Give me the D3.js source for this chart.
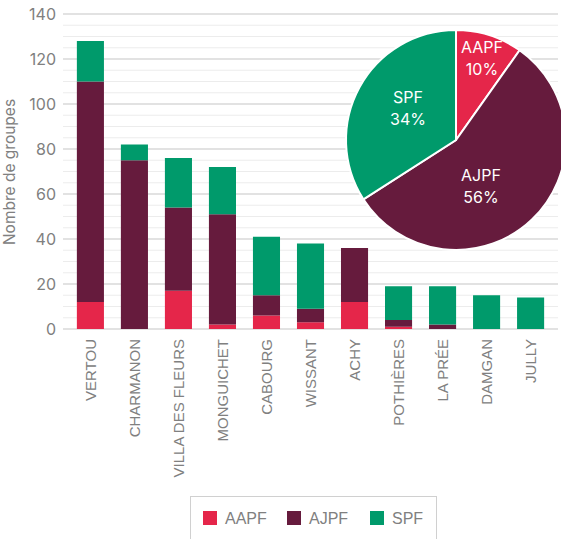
<!doctype html>
<html>
<head>
<meta charset="utf-8"/>
<style>
  html, body { margin: 0; padding: 0; background: #fff; }
  svg { display: block; }
</style>
<script src="https://d3js.org/d3.v7.min.js"></script>
</head>
<body>
<svg id="chart" width="561" height="539"></svg>
<script>
// data
var sites = ["VERTOU", "CHARMANON", "VILLA DES FLEURS", "MONGUICHET", "CABOURG", "WISSANT",
             "ACHY", "POTHIÈRES", "LA PRÉE", "DAMGAN", "JULLY"];
var aapf = [12, 0, 17, 2, 6, 3, 12, 1, 0, 0, 0];
var ajpf = [98, 75, 37, 49, 9, 6, 24, 3, 2, 0, 0];
var spf  = [18, 7, 22, 21, 26, 29, 0, 15, 17, 15, 14];
var seriesNames = ["AAPF", "AJPF", "SPF"];
var yTicks = [0, 20, 40, 60, 80, 100, 120, 140];
var colors = {AAPF: "#e5264a", AJPF: "#661b3d", SPF: "#009a6b"};

var svg = d3.select("#chart");

var y = d3.scaleLinear().domain([0, 140]).range([329, 14]);
var x = d3.scaleBand().domain(sites).range([68.5, 552.5]).paddingInner(0.385).paddingOuter(0.19);

// grid, every 5 units
var grid = svg.append("g");
d3.range(0, 141, 5).forEach(function(v) {
    grid.append("line")
        .attr("x1", 63).attr("x2", 558)
        .attr("y1", y(v)).attr("y2", y(v))
        .attr("stroke", v % 20 === 0 ? "#e2e2e2" : "#ececec")
        .attr("stroke-width", v % 20 === 0 ? 2 : 1.2);
});

// y tick labels
svg.append("g").selectAll("text").data(yTicks).enter().append("text")
    .attr("x", 56).attr("y", function(d) { return y(d); })
    .attr("dy", "0.35em").attr("text-anchor", "end")
    .attr("font-family", "Inter, 'Open Sans', sans-serif").attr("font-size", 16)
    .attr("fill", "#808080")
    .text(function(d) { return d; });

svg.append("text")
    .attr("transform", "translate(15,172) rotate(-90)")
    .attr("text-anchor", "middle")
    .attr("font-family", "Inter, 'Open Sans', sans-serif").attr("font-size", 15.5)
    .attr("fill", "#808080")
    .text("Nombre de groupes");

// stacked bars
var rows = sites.map(function(s, i) { return {site: s, AAPF: aapf[i], AJPF: ajpf[i], SPF: spf[i]}; });
var stack = d3.stack().keys(seriesNames)(rows);
svg.append("g").selectAll("g").data(stack).enter().append("g")
    .attr("fill", function(d) { return colors[d.key]; })
    .selectAll("rect").data(function(d) { return d; }).enter().append("rect")
    .attr("x", function(d) { return x(d.data.site); })
    .attr("width", x.bandwidth())
    .attr("y", function(d) { return y(d[1]); })
    .attr("height", function(d) { return y(d[0]) - y(d[1]); });

// category labels
svg.append("g").selectAll("text").data(sites).enter().append("text")
    .attr("transform", function(d) { return "translate(" + (x(d) + x.bandwidth() / 2) + ",339) rotate(-90)"; })
    .attr("dy", "0.35em").attr("text-anchor", "end")
    .attr("font-family", "'Liberation Sans', Arial, sans-serif").attr("font-size", 15)
    .attr("fill", "#808080")
    .text(function(d) { return d; });

// pie of totals
var totals = [d3.sum(aapf), d3.sum(ajpf), d3.sum(spf)];
var grand = d3.sum(totals);
var pieData = d3.pie().sort(null)(totals);
var arc = d3.arc().innerRadius(0).outerRadius(110);
var pg = svg.append("g").attr("transform", "translate(456,140)");
pg.selectAll("path").data(pieData).enter().append("path")
    .attr("d", arc)
    .attr("fill", function(d, i) { return colors[seriesNames[i]]; })
    .attr("stroke", "#fff").attr("stroke-width", 2);

var labelPos = [[26, -87], [25, 41], [-48, -37]];
pieData.forEach(function(d, i) {
    var t = pg.append("text")
        .attr("text-anchor", "middle")
        .attr("font-family", "Inter, 'Open Sans', sans-serif").attr("font-size", 16)
        .attr("fill", "#fff");
    t.append("tspan").attr("x", labelPos[i][0]).attr("y", labelPos[i][1]).text(seriesNames[i]);
    t.append("tspan").attr("x", labelPos[i][0]).attr("y", labelPos[i][1] + 22)
        .text(Math.round(totals[i] / grand * 100) + "%");
});

// legend
var lg = svg.append("g");
lg.append("rect").attr("x", 190.5).attr("y", 496.5).attr("width", 246).attr("height", 60)
    .attr("fill", "#fff").attr("stroke", "#d0d0d0").attr("stroke-width", 1);
var legX = [203, 287, 370];
seriesNames.forEach(function(s, i) {
    lg.append("rect").attr("x", legX[i]).attr("y", 511).attr("width", 14).attr("height", 14)
        .attr("fill", colors[s]);
    lg.append("text").attr("x", legX[i] + 22).attr("y", 518).attr("dy", "0.35em")
        .attr("font-family", "'Liberation Sans', Arial, sans-serif").attr("font-size", 16)
        .attr("fill", "#808080").text(s);
});
</script>
</body>
</html>
